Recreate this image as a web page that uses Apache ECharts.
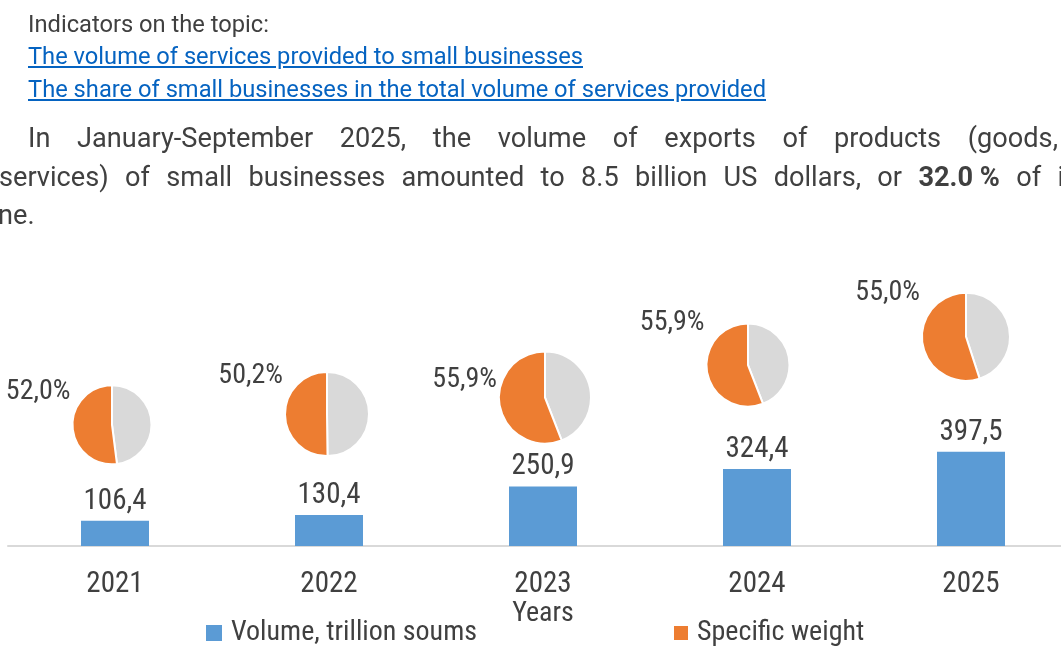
<!DOCTYPE html>
<html>
<head>
<meta charset="utf-8">
<script src="https://cdn.jsdelivr.net/npm/echarts@6.0.0/dist/echarts.min.js"></script>
<style>
    html, body { margin: 0; padding: 0; width: 1061px; height: 648px; overflow: hidden; background: #fff; }
    #chart { position: absolute; left: 0; top: 0; width: 1061px; height: 648px; }
    .ln { position: absolute; white-space: nowrap; transform-origin: 0 0; color: #404040;
          font-family: Roboto, 'Liberation Sans', sans-serif; }
    .small { font-size: 24px; line-height: 24px; }
    .big { font-size: 28px; line-height: 28px; text-align: justify; text-align-last: justify; white-space: normal; }
    .ln a { color: #0563c1; text-decoration: underline; }
    .keep { display: inline-block; white-space: pre; font-weight: bold; }
</style>
</head>
<body>
<div id="chart"></div>
<div class="ln small fit" data-w="241" style="left:28px; top:12px;">Indicators on the topic:</div>
<div class="ln small fit" data-w="555" style="left:28px; top:44px;"><a href="#">The volume of services provided to small businesses</a></div>
<div class="ln small fit" data-w="738" style="left:28px; top:77px;"><a href="#">The share of small businesses in the total volume of services provided</a></div>
<div class="ln big para" data-w="1030" style="left:28px; top:124px;">In January-September 2025, the volume of exports of products (goods,</div>
<div class="ln big para" data-w="1088" style="left:-1px; top:163px;">services) of small businesses amounted to 8.5 billion US dollars, or <span class="keep">32.0 %</span> of its</div>
<div class="ln big" style="left:-2px; top:201px; white-space:nowrap;">ne.</div>
<script>
    // data
    const years = ['2021', '2022', '2023', '2024', '2025']
    const volume = [106.4, 130.4, 250.9, 324.4, 397.5]   // trillion soums
    const share = [52.0, 50.2, 55.9, 55.9, 55.0]          // specific weight, %

    // pie placement (pixels, relative to the bar of the same year)
    const pieRadius = [39.5, 42, 46, 41.5, 44]
    const pieLift = [96, 101, 89, 104, 115]
    const pieShift = [-3, -2, 2, -9, -5]
    const labelDrop = [7, 4, 28, -1, 0]

    const textColor = '#404040'
    const font = "'Liberation Sans Narrow', 'Roboto Condensed', 'DejaVu Sans Condensed', sans-serif"
    const comma = v => v.toFixed(1).replace('.', ',')

    // squeeze the html lines to the widths seen in the picture
    const sx = 0.97
    document.querySelectorAll('.fit').forEach(el => {
        const w = el.getBoundingClientRect().width
        el.style.transform = 'scaleX(' + (+el.dataset.w / w) + ')'
    })
    document.querySelectorAll('.para').forEach(el => {
        el.style.width = (+el.dataset.w / sx) + 'px'
        el.style.transform = 'scaleX(' + sx + ')'
    })
    document.querySelectorAll('.ln.big:not(.para)').forEach(el => {
        el.style.transform = 'scaleX(' + sx + ')'
    })

    const chart = echarts.init(document.getElementById('chart'), null, { renderer: 'canvas' })

    chart.setOption({
        animation: false,
        textStyle: { fontFamily: font, color: textColor },
        grid: { left: 8, right: -17, top: 309, bottom: 102, outerBoundsMode: 'none', containLabel: false },
        legend: [{
            left: 206, top: 619, padding: 0,
            itemWidth: 16, itemHeight: 16, icon: 'rect',
            data: ['Volume, trillion soums'],
            textStyle: { fontSize: 28, color: textColor, fontFamily: font, padding: [0, 0, 0, 4] }
        }, {
            left: 672, top: 619, padding: 0,
            itemWidth: 16, itemHeight: 16, icon: 'rect',
            data: ['Specific weight'],
            textStyle: { fontSize: 28, color: textColor, fontFamily: font, padding: [0, 0, 0, 3] }
        }],
        xAxis: {
            type: 'category',
            data: years,
            name: 'Years',
            nameLocation: 'middle',
            nameGap: 54,
            nameTextStyle: { fontSize: 28, color: textColor, fontFamily: font },
            axisLine: { lineStyle: { color: '#d9d9d9', width: 2 } },
            axisTick: { show: false },
            axisLabel: { fontSize: 29, color: textColor, fontFamily: font, margin: 24 }
        },
        yAxis: {
            type: 'value',
            min: 0,
            max: 1000,
            show: false,
            splitLine: { show: false }
        },
        series: [{
            id: 'volume',
            name: 'Volume, trillion soums',
            type: 'bar',
            barWidth: 68,
            data: volume,
            itemStyle: { color: '#5b9bd5' },
            label: {
                show: true,
                position: 'top',
                distance: 5,
                fontSize: 29,
                color: textColor,
                fontFamily: font,
                formatter: p => comma(p.value)
            },
            silent: true
        }]
    })

    // pies sit above each bar, placed through the axes
    const pies = []
    const labels = []
    years.forEach((y, i) => {
        const base = chart.convertToPixel({ seriesId: 'volume' }, [y, volume[i]])
        const cx = base[0] + pieShift[i]
        const cy = base[1] - pieLift[i]
        const r = pieRadius[i]
        pies.push({
            id: 'pie' + y,
            type: 'pie',
            center: [cx, cy],
            radius: r,
            startAngle: 90,
            silent: true,
            label: { show: false },
            labelLine: { show: false },
            itemStyle: { borderColor: '#fff', borderWidth: 2 },
            data: [
                { name: 'Rest', value: +(100 - share[i]).toFixed(1), itemStyle: { color: '#d9d9d9' } },
                { name: 'Specific weight', value: share[i], itemStyle: { color: '#ed7d31' } }
            ]
        })
        labels.push({
            type: 'text',
            x: cx - r - 2,
            y: cy - r + labelDrop[i],
            style: {
                text: comma(share[i]) + '%',
                fontSize: 28,
                fontFamily: font,
                fill: textColor,
                align: 'right',
                verticalAlign: 'middle'
            }
        })
    })

    chart.setOption({ series: pies, graphic: labels })
</script>
</body>
</html>
